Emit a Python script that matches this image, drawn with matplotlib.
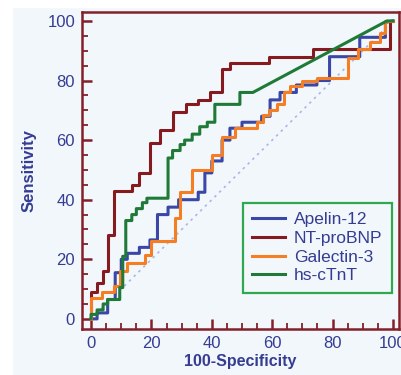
import matplotlib.pyplot as plt
from matplotlib.patches import Rectangle

# ROC curve corners (100-specificity, sensitivity), in percent
apelin_fpr = [0, 2, 2, 5.5, 5.5, 8, 8, 10, 10, 12, 12, 16, 16, 19.5, 19.5, 22, 22,
              25.5, 25.5, 29, 29, 35.5, 35.5, 37.7, 37.7, 40, 40, 43.4, 43.4, 46, 46,
              50, 50, 56.5, 56.5, 59.3, 59.3, 62.6, 62.6, 68, 68, 74.8, 74.8, 79, 79,
              89, 89, 97.5, 97.5, 100]
apelin_tpr = [0, 0, 2, 2, 6.5, 6.5, 15.5, 15.5, 20, 20, 22, 22, 24, 24, 26.5, 26.5, 35,
              35, 37.5, 37.5, 40, 40, 42.5, 42.5, 49, 49, 53, 53, 60, 60, 64,
              64, 66, 66, 68, 68, 73.5, 73.5, 76, 76, 78.5, 78.5, 80, 80, 88,
              88, 94.5, 94.5, 99.5, 100]

ntprobnp_fpr = [0, 0, 2, 2, 4, 4, 5.5, 5.5, 7.5, 7.5, 13.5, 13.5, 16, 16, 19.5, 19.5,
                23, 23, 27, 27, 31.5, 31.5, 35.5, 35.5, 39.5, 39.5, 43.5, 43.5, 46, 46,
                59, 59, 73.5, 73.5, 99, 99, 100]
ntprobnp_tpr = [0, 9, 9, 12, 12, 16, 16, 28, 28, 43, 43, 45, 45, 49, 49, 59,
                59, 63.5, 63.5, 69.5, 69.5, 72, 72, 73.5, 73.5, 76, 76, 84, 84, 86,
                86, 88, 88, 90.5, 90.5, 100, 100]

galectin_fpr = [0, 0, 3.6, 3.6, 7.5, 7.5, 9.6, 9.6, 12, 12, 18, 18, 20, 20, 27.8, 27.8,
                29.5, 29.5, 33.4, 33.4, 40, 40, 43.4, 43.4, 47.7, 47.7, 55, 55, 57, 57,
                59, 59, 61.5, 61.5, 64, 64, 66, 66, 70, 70, 75, 75, 85, 85, 88.5, 88.5,
                92.4, 92.4, 95.7, 95.7, 97.4, 97.4, 100]
galectin_tpr = [0, 7, 7, 9, 9, 11, 11, 16, 16, 18.8, 18.8, 21.5, 21.5, 26, 26, 34,
                34, 42.6, 42.6, 50, 50, 55, 55, 61, 61, 64, 64, 66, 66, 68.5,
                68.5, 70, 70, 72, 72, 76, 76, 78, 78, 80, 80, 81, 81, 87.5, 87.5,
                90.5, 90.5, 93, 93, 96, 96, 100, 100]

hsctnt_fpr = [0, 0, 2, 2, 4, 4, 5.5, 5.5, 9.5, 9.5, 10.5, 10.5, 11.5, 11.5, 13.5, 13.5,
              15, 15, 17, 17, 18.5, 18.5, 25.5, 25.5, 27, 27, 29.5, 29.5, 31, 31,
              33.5, 33.5, 36, 36, 38.5, 38.5, 41, 41, 49.3, 49.3, 53.6, 98, 100]
hsctnt_tpr = [0, 1.5, 1.5, 3, 3, 5, 5, 6.5, 6.5, 10.5, 10.5, 21, 21, 33, 33, 35,
              35, 37, 37, 39, 39, 40.5, 40.5, 54, 54, 56.5, 56.5, 58.5, 58.5, 60,
              60, 62, 62, 64.5, 64.5, 66, 66, 72, 72, 76, 76, 100, 100]

series = [
    ('Apelin-12', apelin_fpr, apelin_tpr, '#3a47a6'),
    ('NT-proBNP', ntprobnp_fpr, ntprobnp_tpr, '#861b1f'),
    ('Galectin-3', galectin_fpr, galectin_tpr, '#f57d22'),
    ('hs-cTnT', hsctnt_fpr, hsctnt_tpr, '#1e7a36'),
]

ticks = [0, 20, 40, 60, 80, 100]

navy = '#353d92'
frame = '#84202a'
bg = '#f2f7fc'

plt.rcParams['font.family'] = ['Liberation Sans', 'DejaVu Sans']

fig = plt.figure(figsize=(4.02, 3.75), dpi=100, facecolor=bg)
# white margins on the left and top edges
fig.patches.append(Rectangle((0, 0), 12 / 402, 1, transform=fig.transFigure,
                             color='white', zorder=-1))
fig.patches.append(Rectangle((0, 1 - 7 / 375), 1, 7 / 375, transform=fig.transFigure,
                             color='white', zorder=-1))

ax = fig.add_axes([82 / 402, 1 - 329 / 375, 317 / 402, 317 / 375])
ax.set_facecolor(bg)

ax.plot([0, 100], [0, 100], color='#a9b8e2', lw=1.2, ls=(0, (1.5, 2.5)), zorder=1)
for name, x, y, c in series:
    ax.plot(x, y, color=c, lw=2.2, label=name, zorder=3)

ax.set_xlim(-3, 102)
ax.set_ylim(-3.4, 103)
ax.set_xticks(ticks)
ax.set_yticks(ticks)
ax.set_xticks(range(0, 101, 5), minor=True)
ax.set_yticks(range(0, 101, 5), minor=True)

for s in ax.spines.values():
    s.set_color(frame)
    s.set_linewidth(1.8)

ax.tick_params(which='both', direction='in', color=frame, labelcolor=navy,
               labelsize=12, top=False, right=False)
ax.tick_params(which='major', length=7, width=1.8, pad=5)
ax.tick_params(which='minor', length=4, width=1.3)

ax.set_xlabel('100-Specificity', fontsize=11.5, fontweight='bold', color=navy, labelpad=2)
ax.set_ylabel('Sensitivity', fontsize=12, fontweight='bold', color=navy, labelpad=8)

leg = ax.legend(loc='lower right', bbox_to_anchor=(0.978, 0.114), fontsize=12.5,
                fancybox=False, framealpha=1, facecolor=bg, edgecolor='#2fa84f',
                handlelength=1.9, handletextpad=0.5, labelspacing=0.2,
                borderpad=0.55, borderaxespad=0)
leg.get_frame().set_linewidth(1.6)
for t in leg.get_texts():
    t.set_color(navy)

fig.savefig('out.png', dpi=100, facecolor=fig.get_facecolor())
